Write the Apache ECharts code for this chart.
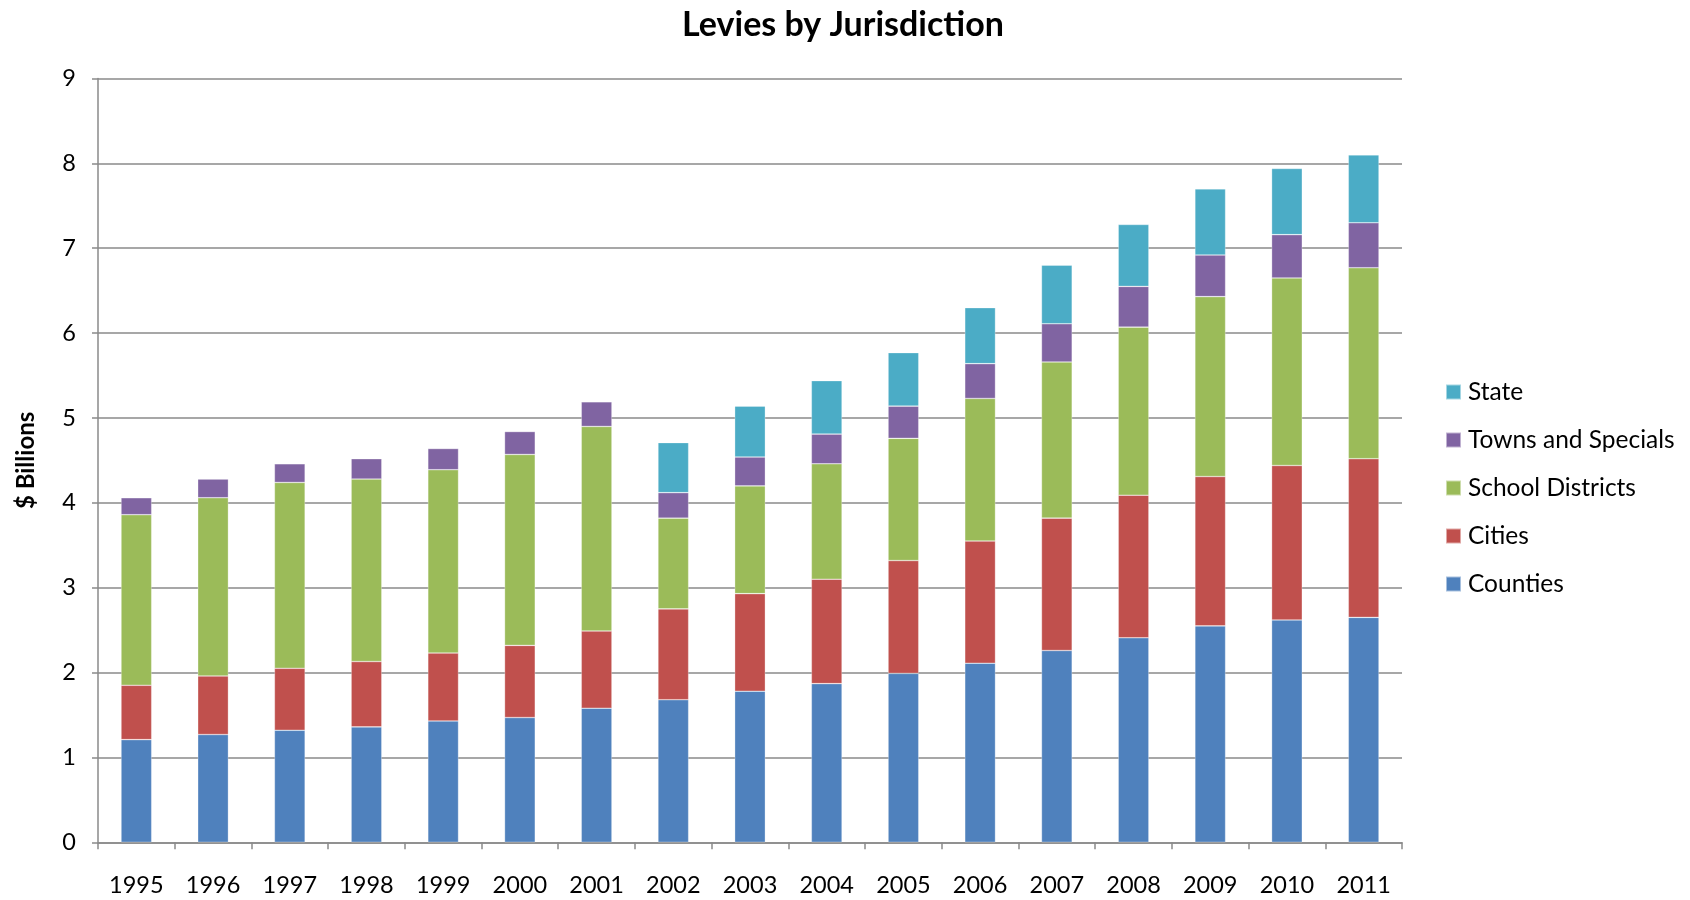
<!DOCTYPE html>
<html>
<head>
<meta charset="utf-8">
<script src="https://cdn.jsdelivr.net/npm/echarts@6/dist/echarts.min.js"></script>
<style>
  html, body { margin: 0; padding: 0; background: #fff; }
  #chart { width: 1690px; height: 900px; }
</style>
</head>
<body>
<div id="chart"></div>
<script>
// data, in $ billions
const years = ['1995','1996','1997','1998','1999','2000','2001','2002','2003','2004','2005','2006','2007','2008','2009','2010','2011']
const counties = [1.21,1.27,1.32,1.36,1.43,1.47,1.58,1.68,1.78,1.87,1.99,2.11,2.26,2.41,2.55,2.62,2.65]
const cities = [0.64,0.69,0.73,0.77,0.80,0.85,0.91,1.07,1.15,1.23,1.33,1.44,1.56,1.68,1.76,1.82,1.87]
const schoolDistricts = [2.01,2.10,2.19,2.15,2.16,2.25,2.41,1.07,1.27,1.36,1.44,1.68,1.84,1.98,2.12,2.21,2.25]
const townsAndSpecials = [0.20,0.22,0.22,0.24,0.25,0.27,0.29,0.30,0.34,0.35,0.38,0.41,0.45,0.48,0.49,0.51,0.53]
const state = [null,null,null,null,null,null,null,0.59,0.60,0.63,0.63,0.66,0.69,0.73,0.78,0.78,0.80]

const font = 'Lato, "Open Sans", sans-serif'
const gray = '#8a8a8a'

function stackSeries(name, data, color) {
    return {
        name: name,
        type: 'bar',
        stack: 'total',
        barWidth: '40%',
        data: data,
        itemStyle: { color: color, borderColor: 'rgba(255,255,255,0.5)', borderWidth: 0.6 },
        emphasis: { disabled: true }
    }
}

let chart = echarts.init(document.getElementById('chart'))
chart.setOption({
    animation: false,
    title: {
        text: 'Levies by Jurisdiction',
        left: 838,
        textAlign: 'center',
        top: 3,
        textStyle: { fontFamily: font, fontSize: 34, fontWeight: 'bold', color: '#000' }
    },
    legend: {
        orient: 'vertical',
        left: 1440,
        top: 374,
        itemWidth: 15,
        itemHeight: 15,
        itemGap: 22,
        icon: 'rect',
        data: ['State', 'Towns and Specials', 'School Districts', 'Cities', 'Counties'],
        textStyle: { fontFamily: font, fontSize: 24.5, color: '#000', lineHeight: 26, padding: [0, 0, 0, 2] }
    },
    grid: { left: 98, right: 288, top: 78.5, bottom: 57.7 },
    xAxis: {
        type: 'category',
        data: years,
        axisLine: { lineStyle: { color: gray, width: 1.5 } },
        axisTick: { show: true, length: 7, lineStyle: { color: gray, width: 1.5 } },
        axisLabel: { margin: 31, fontFamily: font, fontSize: 23.5, color: '#000' }
    },
    yAxis: {
        type: 'value',
        min: 0,
        max: 9,
        interval: 1,
        name: '$ Billions',
        nameLocation: 'middle',
        nameRotate: 90,
        nameGap: 60,
        nameTextStyle: { fontFamily: font, fontSize: 24, fontWeight: 'bold', color: '#000' },
        axisLine: { show: true, lineStyle: { color: gray, width: 1.5 } },
        axisTick: { show: true, length: 6, lineStyle: { color: gray, width: 1.5 } },
        axisLabel: { margin: 22, fontFamily: font, fontSize: 23.5, color: '#000' },
        splitLine: { lineStyle: { color: gray, width: 1.5 } }
    },
    series: [
        stackSeries('Counties', counties, '#4F81BD'),
        stackSeries('Cities', cities, '#C0504D'),
        stackSeries('School Districts', schoolDistricts, '#9BBB59'),
        stackSeries('Towns and Specials', townsAndSpecials, '#8064A2'),
        stackSeries('State', state, '#4BACC6')
    ]
})
</script>
</body>
</html>
